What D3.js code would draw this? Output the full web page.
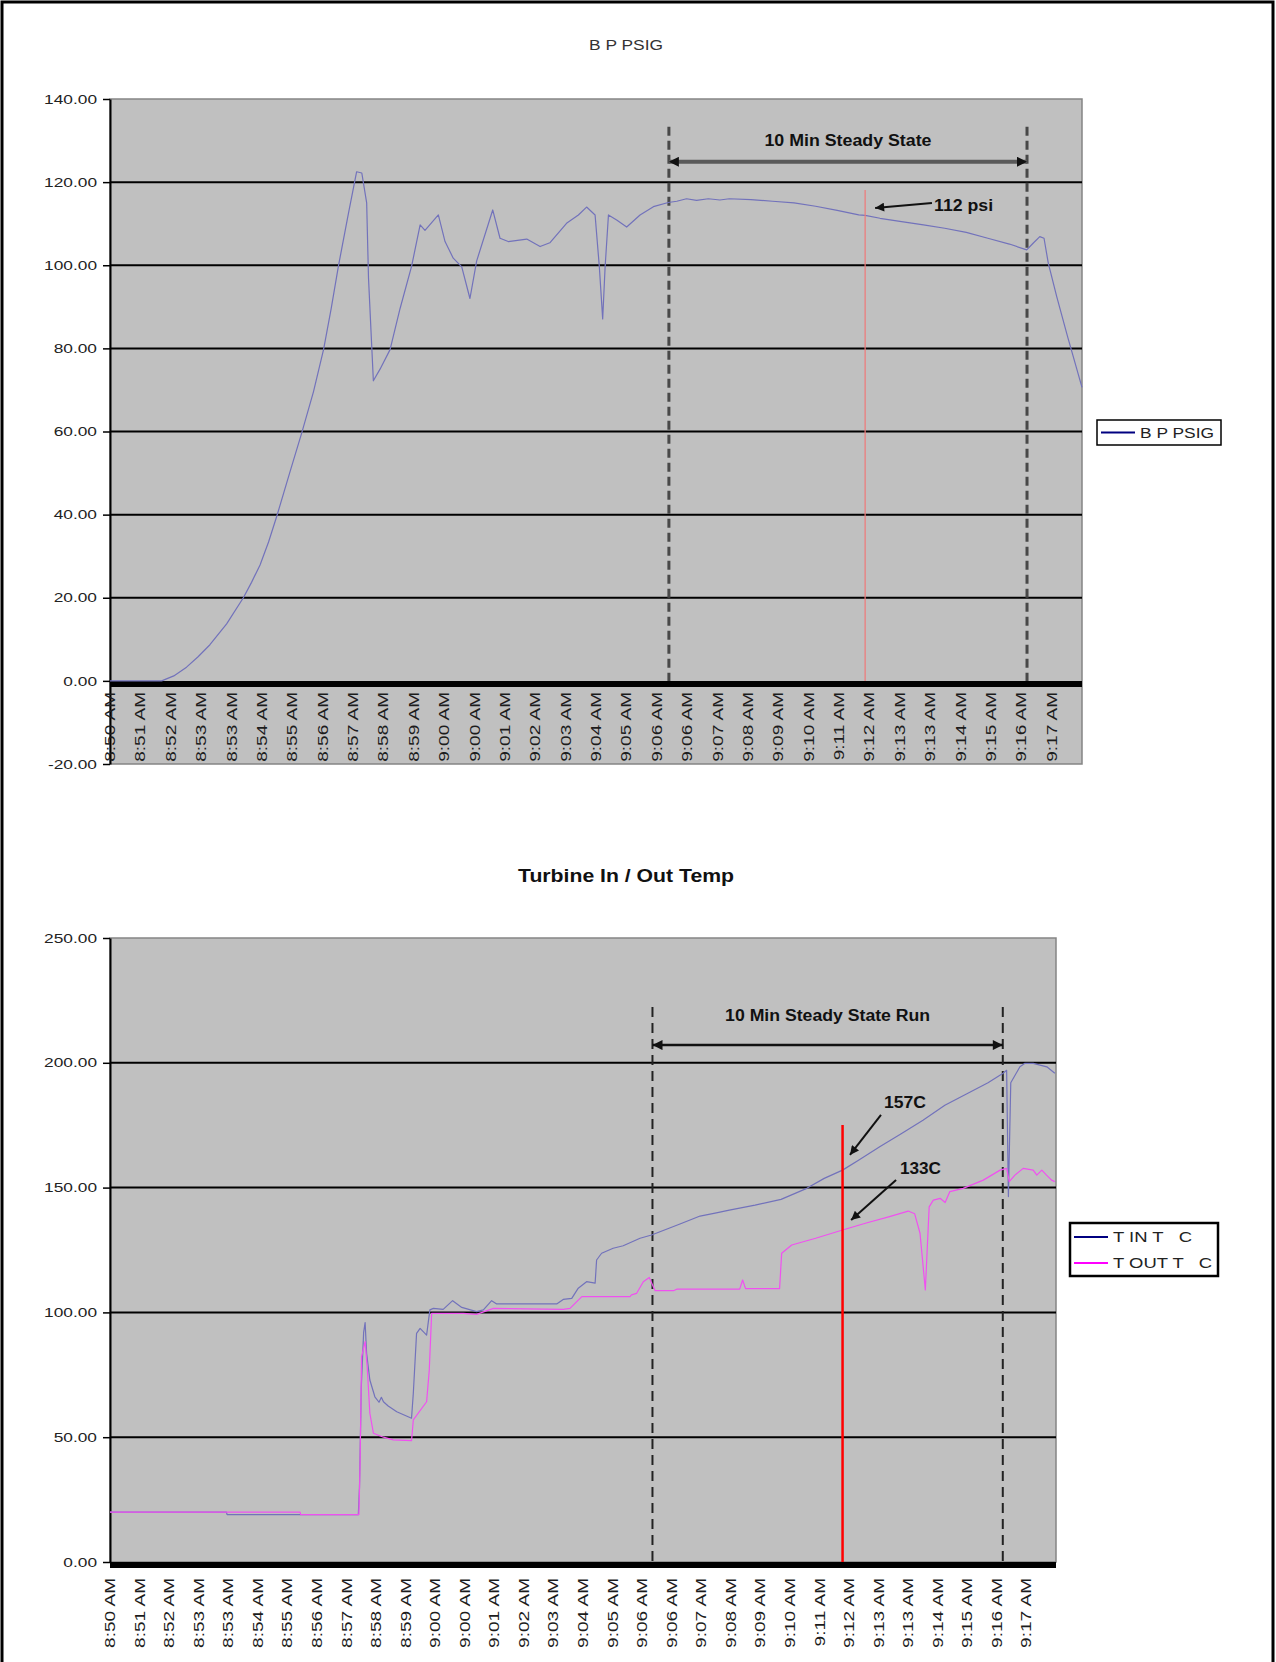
<!DOCTYPE html>
<html>
<head>
<meta charset="utf-8">
<script src="https://cdn.jsdelivr.net/npm/d3@7"></script>
<style>
  html, body { margin: 0; padding: 0; background: #fff; }
  svg { display: block; }
</style>
</head>
<body>
<svg id="chart" width="1276" height="1662"></svg>
<script>
// Category labels along both time axes (one label per category slot)
const timeLabels = ["8:50 AM","8:51 AM","8:52 AM","8:53 AM","8:53 AM","8:54 AM","8:55 AM","8:56 AM",
  "8:57 AM","8:58 AM","8:59 AM","9:00 AM","9:00 AM","9:01 AM","9:02 AM","9:03 AM","9:04 AM","9:05 AM",
  "9:06 AM","9:06 AM","9:07 AM","9:08 AM","9:09 AM","9:10 AM","9:11 AM","9:12 AM","9:13 AM","9:13 AM",
  "9:14 AM","9:15 AM","9:16 AM","9:17 AM"];

// Value axis ticks
const bpTicks = [140, 120, 100, 80, 60, 40, 20, 0, -20];
const tempTicks = [250, 200, 150, 100, 50, 0];

// B P PSIG samples: position on the category axis, pressure (psig)
const bpPos = [0, 1.70, 2.10, 2.52, 2.90, 3.29, 3.84, 4.39, 4.66, 4.94, 5.22, 5.49, 5.93, 6.31, 6.70, 7.03,
  7.28, 7.52, 7.85, 8.12, 8.29,
  8.45, 8.51, 8.62, 8.67, 8.89, 9.22, 9.55, 9.93, 10.21, 10.37, 10.81, 11.03, 11.30, 11.58, 11.85, 12.07,
  12.60, 12.84, 13.11, 13.72, 14.16, 14.48, 15.03, 15.42, 15.69, 15.97, 16.11, 16.22, 16.30, 16.41, 16.68,
  17.01, 17.45, 17.89, 18.38, 18.66, 18.98, 19.31, 19.70, 20.08, 20.39, 21.10, 21.81, 22.52, 23.23, 23.94,
  24.65, 24.86, 25.35, 26.06, 26.78, 27.48, 28.19, 28.90, 29.61, 30.18, 30.39, 30.61, 30.75, 30.89, 31.17,
  31.53, 32.0];
const bpPsig = [0, 0, 1.2, 3.3, 5.8, 8.7, 13.7, 20, 23.7, 27.9, 33.4, 39.6, 50.4, 59.6, 69.6, 79.7,
  89.5, 99.8, 112.5, 122.5, 122.2,
  115, 97, 80, 72.2, 75, 79.7, 89.6, 99.8, 109.7, 108.4, 112.1, 105.7, 101.7, 99.6, 92.0, 101,
  113.3, 106.5, 105.7, 106.3, 104.5, 105.4, 110.1, 112.1, 114.0, 112.1, 99.6, 87.1, 99.6, 112.1, 110.9,
  109.2, 112.1, 114.1, 115.1, 115.4, 116.0, 115.6, 116.0, 115.7, 116.0, 115.8, 115.4, 115.0, 114.2, 113.2,
  112.1, 112.0, 111.3, 110.5, 109.7, 108.9, 107.9, 106.5, 105.1, 103.7, 105.3, 106.9, 106.5, 100.5, 92.4,
  82.7, 70.6];

// Turbine inlet temperature (C)
const tInPos = [0, 3.94, 3.96, 8.40, 8.44, 8.50, 8.58, 8.63, 8.68, 8.79, 8.96, 9.10, 9.18, 9.25, 9.41, 9.70,
  10.20, 10.26, 10.37, 10.49, 10.71, 10.82, 10.94, 11.27, 11.59, 11.90, 12.40, 12.63, 12.91, 13.08, 15.11,
  15.33, 15.62, 15.84, 16.12, 16.41, 16.46, 16.63, 17.02, 17.36, 17.93, 18.32, 19.28, 19.96, 20.51, 20.95,
  21.82, 22.70, 23.57, 24.16, 24.78, 25.32, 26.05, 26.75, 27.50, 28.24, 28.97, 29.70, 30.21, 30.33, 30.39,
  30.47, 30.78, 30.95, 31.23, 31.69, 31.96];
const tInC = [20, 20, 19, 19, 30, 70, 92, 95.9, 83.6, 72.9, 66.2, 64, 66, 64.2, 62.5, 60.2,
  57.6, 67.6, 91.6, 93.6, 90.9, 101, 101.6, 101.2, 104.7, 102, 100.3, 101, 104.7, 103.4, 103.4,
  105.2, 105.6, 109.7, 112.3, 111.7, 121, 123.7, 125.7, 126.7, 129.7, 131, 135.4, 138.6, 139.9, 141,
  143, 145.3, 149.7, 153.7, 157, 161, 166.5, 171.5, 177, 183, 187.5, 192, 195.8, 197, 146.4,
  192, 198.4, 199.8, 199.8, 198.4, 195.8];

// Turbine outlet temperature (C)
const tOutPos = [0, 6.43, 6.45, 8.42, 8.46, 8.51, 8.63, 8.70, 8.79, 8.91, 9.25, 9.58, 10.20, 10.26, 10.71,
  10.80, 10.88, 11.95, 12.40, 12.97, 15.33, 15.56, 15.96, 17.59, 17.64, 17.81, 18.04, 18.24, 18.44, 19.06,
  19.17, 21.30, 21.40, 21.50, 22.65, 22.72, 23.06, 23.87, 24.78, 25.61, 26.34, 27.00, 27.22, 27.40, 27.58,
  27.71, 27.85, 28.08, 28.25, 28.41, 28.86, 29.54, 30.11, 30.33, 30.42, 30.61, 30.89, 31.23, 31.35, 31.52,
  31.68, 31.85, 31.96];
const tOutC = [20, 20, 19, 19, 40, 82.3, 88.3, 78.2, 59.6, 51.6, 50, 48.9, 48.6, 56.9, 64.2,
  76.9, 99.6, 99.6, 99.2, 101.6, 101.2, 101.6, 106.3, 106.3, 107, 107.6, 112.3, 114, 108.7, 108.7,
  109.3, 109.3, 113, 109.5, 109.5, 123.7, 127, 129.7, 133, 135.9, 138.3, 140.6, 139.5, 131.7, 109,
  142.3, 145, 145.7, 144, 148.4, 149.7, 153, 157, 157.7, 152.4, 155, 157.7, 157, 155, 157,
  155, 153, 152.4];

const FONT = "'Liberation Sans', Arial, Helvetica, sans-serif";
const svg = d3.select("#chart");
const defs = svg.append("defs");

function arrowHead(id, color, w, h) {
  defs.append("marker")
    .attr("id", id).attr("viewBox", "0 0 10 10")
    .attr("refX", 10).attr("refY", 5)
    .attr("markerWidth", w).attr("markerHeight", h)
    .attr("markerUnits", "userSpaceOnUse")
    .attr("orient", "auto-start-reverse")
    .append("path").attr("d", "M0,0L10,5L0,10Z").attr("fill", color);
}
arrowHead("spanHead", "#111", 13, 10);
arrowHead("calloutHead", "#111", 12, 9);

// Stretch text horizontally by a factor of its natural length
function stretch(sel, k) {
  sel.each(function () {
    const w = this.getComputedTextLength();
    this.setAttribute("textLength", (w * k).toFixed(1));
    this.setAttribute("lengthAdjust", "spacingAndGlyphs");
  });
}
function fit(sel, width) {
  sel.attr("textLength", width).attr("lengthAdjust", "spacingAndGlyphs");
}

// Page frame
svg.append("rect").attr("x", 2).attr("y", 2).attr("width", 1271).attr("height", 1700)
  .attr("fill", "none").attr("stroke", "#000").attr("stroke-width", 3);

function drawPanel(cfg) {
  const g = svg.append("g");
  const x = d3.scaleLinear().domain([0, timeLabels.length]).range([cfg.left, cfg.right]);
  const y = d3.scaleLinear().domain(cfg.yDomain).range([cfg.bottom, cfg.top]);

  // Plot area
  g.append("rect")
    .attr("x", cfg.left).attr("y", cfg.top)
    .attr("width", cfg.right - cfg.left).attr("height", cfg.bottom - cfg.top)
    .attr("fill", "#c0c0c0").attr("stroke", "#858585").attr("stroke-width", 1.5);

  // Horizontal gridlines
  const inner = cfg.ticks.filter(t => t !== 0 && t > cfg.yDomain[0] && t < cfg.yDomain[1]);
  g.append("g").selectAll("line").data(inner).join("line")
    .attr("x1", cfg.left).attr("x2", cfg.right)
    .attr("y1", d => y(d)).attr("y2", d => y(d))
    .attr("stroke", "#000").attr("stroke-width", 2);

  // Steady-state window: dashed boundaries, span arrow and caption
  const a = cfg.ann;
  g.append("g").selectAll("line").data(a.window).join("line")
    .attr("x1", d => x(d)).attr("x2", d => x(d))
    .attr("y1", y(a.windowTop)).attr("y2", y(0))
    .attr("stroke", a.dashColor).attr("stroke-width", a.dashWidth)
    .attr("stroke-dasharray", a.dash);
  g.append("line")
    .attr("x1", x(a.window[0])).attr("x2", x(a.window[1]))
    .attr("y1", y(a.arrowAt)).attr("y2", y(a.arrowAt))
    .attr("stroke", a.spanColor).attr("stroke-width", a.spanWidth)
    .attr("marker-start", "url(#spanHead)").attr("marker-end", "url(#spanHead)");
  g.append("text")
    .attr("x", (x(a.window[0]) + x(a.window[1])) / 2).attr("y", y(a.captionAt))
    .attr("dy", "0.36em").attr("text-anchor", "middle")
    .attr("font-family", FONT).attr("font-weight", "bold")
    .attr("font-size", a.captionSize).attr("fill", "#111")
    .text(a.caption)
    .call(fit, a.captionWidth);

  // Y axis
  const ya = g.append("g").attr("transform", `translate(${cfg.left},0)`)
    .call(d3.axisLeft(y).tickValues(cfg.ticks).tickSize(7).tickSizeOuter(0)
      .tickPadding(6).tickFormat(d => d.toFixed(2)));
  ya.attr("font-family", FONT).attr("font-size", 13);
  ya.select(".domain").attr("stroke", "#000").attr("stroke-width", 2);
  ya.selectAll(".tick line").attr("stroke", "#000").attr("stroke-width", 1.5);
  ya.selectAll(".tick text").attr("fill", "#222").call(stretch, 1.33);

  // Category axis: thick baseline and rotated time labels
  g.append("line")
    .attr("x1", cfg.left).attr("x2", cfg.right)
    .attr("y1", y(0) + 3).attr("y2", y(0) + 3)
    .attr("stroke", "#000").attr("stroke-width", 6);
  g.append("g").selectAll("text").data(timeLabels).join("text")
    .attr("transform", (d, i) => `translate(${x(i)},${y(0) + cfg.labelGap}) rotate(-90)`)
    .attr("dy", "0.36em").attr("text-anchor", "end")
    .attr("font-family", FONT).attr("font-size", 14).attr("fill", "#1c1c1c")
    .text(d => d)
    .call(stretch, 1.36);

  // Data series
  const line = d3.line().x(d => x(d[0])).y(d => y(d[1]));
  cfg.series.forEach(s => {
    g.append("path")
      .datum(d3.zip(s.pos, s.val))
      .attr("d", line)
      .attr("fill", "none").attr("stroke", s.stroke)
      .attr("stroke-width", s.width).attr("stroke-linejoin", "round");
  });

  // Reference marker line
  g.append("line")
    .attr("x1", x(a.marker)).attr("x2", x(a.marker))
    .attr("y1", y(a.markerTop)).attr("y2", y(0))
    .attr("stroke", a.markerColor).attr("stroke-width", a.markerWidth);

  // Value callouts
  a.callouts.forEach(c => {
    g.append("line")
      .attr("x1", x(c.from[0])).attr("y1", y(c.from[1]))
      .attr("x2", x(c.to[0])).attr("y2", y(c.to[1]))
      .attr("stroke", "#111").attr("stroke-width", 2)
      .attr("marker-end", "url(#calloutHead)");
    g.append("text")
      .attr("x", x(c.at[0])).attr("y", y(c.at[1])).attr("dy", "0.36em")
      .attr("font-family", FONT).attr("font-weight", "bold")
      .attr("font-size", 16).attr("fill", "#111")
      .text(c.text)
      .call(fit, c.width);
  });

  // Legend
  const L = cfg.legend;
  const lg = svg.append("g");
  lg.append("rect").attr("x", L.x).attr("y", L.y).attr("width", L.w).attr("height", L.h)
    .attr("fill", "#fff").attr("stroke", "#000").attr("stroke-width", L.border);
  L.items.forEach((it, i) => {
    const cy = L.y + L.pad + i * L.step;
    lg.append("line").attr("x1", L.x + 4).attr("x2", L.x + 38)
      .attr("y1", cy).attr("y2", cy)
      .attr("stroke", it.color).attr("stroke-width", 2.2);
    lg.append("text").attr("x", L.x + 43).attr("y", cy).attr("dy", "0.36em")
      .attr("xml:space", "preserve").style("white-space", "pre")
      .attr("font-family", FONT).attr("font-size", 14).attr("fill", "#222")
      .text(it.label)
      .call(fit, it.width);
  });
  return { x, y };
}

// Chart titles
svg.append("text").attr("x", 626).attr("y", 45).attr("dy", "0.36em")
  .attr("text-anchor", "middle").attr("font-family", FONT).attr("font-size", 14)
  .attr("fill", "#333").text("B P PSIG").call(fit, 74);
svg.append("text").attr("x", 626).attr("y", 875).attr("dy", "0.36em")
  .attr("text-anchor", "middle").attr("font-family", FONT).attr("font-size", 19)
  .attr("font-weight", "bold").attr("fill", "#111")
  .text("Turbine In / Out Temp").call(fit, 216);

// Pressure chart
drawPanel({
  left: 110, right: 1082, top: 99, bottom: 764,
  yDomain: [-20, 140], ticks: bpTicks, labelGap: 11,
  series: [{ pos: bpPos, val: bpPsig, stroke: "#7272bb", width: 1.2 }],
  ann: {
    window: [18.4, 30.19], windowTop: 133.3, arrowAt: 124.9,
    dash: "9,5", dashColor: "#484848", dashWidth: 3,
    spanColor: "#5a5a5a", spanWidth: 4,
    caption: "10 Min Steady State", captionAt: 130.1, captionSize: 16, captionWidth: 167,
    marker: 24.86, markerTop: 118.1, markerColor: "#f07878", markerWidth: 1.2,
    callouts: [{ text: "112 psi", at: [27.13, 114.5], from: [27.06, 115.0], to: [25.19, 113.8], width: 59 }]
  },
  legend: { x: 1097, y: 420, w: 124, h: 25, border: 1.5, pad: 12.5, step: 0,
    items: [{ label: "B P PSIG", color: "#000080", width: 74 }] }
});

// Temperature chart
drawPanel({
  left: 110, right: 1056, top: 938, bottom: 1562,
  yDomain: [0, 250], ticks: tempTicks, labelGap: 16,
  series: [
    { pos: tInPos, val: tInC, stroke: "#7272bb", width: 1.2 },
    { pos: tOutPos, val: tOutC, stroke: "#f050f0", width: 1.2 }
  ],
  ann: {
    window: [18.35, 30.2], windowTop: 222.4, arrowAt: 207.1,
    dash: "10,6", dashColor: "#222", dashWidth: 2,
    spanColor: "#111", spanWidth: 2.5,
    caption: "10 Min Steady State Run", captionAt: 219.2, captionSize: 16, captionWidth: 205,
    marker: 24.78, markerTop: 175.1, markerColor: "#ff0000", markerWidth: 2.5,
    callouts: [
      { text: "157C", at: [26.18, 184.3], from: [26.08, 179.1], to: [25.03, 163.1], width: 42 },
      { text: "133C", at: [26.72, 157.9], from: [26.59, 153.0], to: [25.07, 137.0], width: 41 }
    ]
  },
  legend: { x: 1070, y: 1223, w: 148, h: 53, border: 2.5, pad: 14, step: 26,
    items: [
      { label: "T IN T   C", color: "#000080", width: 79 },
      { label: "T OUT T   C", color: "#ff00ff", width: 99 }
    ] }
});
</script>
</body>
</html>
